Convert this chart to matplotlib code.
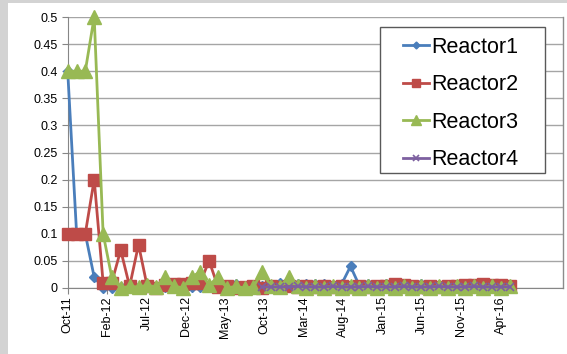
import numpy as np
import matplotlib
matplotlib.use("Agg")
import matplotlib.pyplot as plt
import matplotlib.dates as mdates
from matplotlib.patches import Rectangle
from datetime import datetime, timedelta

plt.rcParams['font.family'] = ['Liberation Sans', 'DejaVu Sans']

# ---------------- data ----------------
sample_dates = [
    "2011-10-01", "2011-11-04", "2011-12-07", "2012-01-10", "2012-02-13", "2012-03-17",
    "2012-04-20", "2012-05-24", "2012-06-27", "2012-07-30", "2012-09-02", "2012-10-06",
    "2012-11-08", "2012-12-12", "2013-01-15", "2013-02-17", "2013-03-23", "2013-04-26",
    "2013-05-30", "2013-07-02", "2013-08-05", "2013-09-08", "2013-10-11", "2013-11-14",
    "2013-12-18", "2014-01-20", "2014-02-23", "2014-03-29", "2014-05-02", "2014-06-04",
    "2014-07-08", "2014-08-11", "2014-09-13", "2014-10-17", "2014-11-20", "2014-12-24",
    "2015-01-26", "2015-03-01", "2015-04-04", "2015-05-07", "2015-06-10", "2015-07-14",
    "2015-08-16", "2015-09-19", "2015-10-23", "2015-11-25", "2015-12-29", "2016-02-01",
    "2016-03-06", "2016-04-08", "2016-05-12",
]

reactor1 = [0.4, 0.1, 0.1, 0.02, 0.0, 0.0, 0.002, 0.001, 0.002, 0.003,
            0.002, 0.001, 0.002, 0.003, 0.002, 0.001, 0.003, 0.002, 0.006, 0.008,
            0.004, 0.002, 0.004, 0.003, 0.009, 0.004, 0.008, 0.008, 0.007, 0.008,
            0.004, 0.008, 0.04, 0.004, 0.008, 0.003, 0.007, 0.004, 0.006, 0.003,
            0.007, 0.004, 0.006, 0.004, 0.003, 0.006, 0.003, 0.004, 0.003, 0.005,
            0.003]

reactor2 = [0.1, 0.1, 0.1, 0.2, 0.01, 0.01, 0.07, 0.003, 0.08, 0.003,
            0.0, 0.005, 0.008, 0.008, 0.01, 0.01, 0.05, 0.002, 0.003, 0.0,
            0.002, 0.004, 0.0, 0.003, 0.002, 0.003, 0.002, 0.003, 0.002, 0.003,
            0.002, 0.003, 0.002, 0.003, 0.002, 0.003, 0.004, 0.007, 0.006, 0.003,
            0.002, 0.003, 0.002, 0.003, 0.003, 0.006, 0.006, 0.007, 0.005, 0.005,
            0.004]

reactor3 = [0.4, 0.4, 0.4, 0.5, 0.1, 0.02, 0.0, 0.003, 0.002, 0.005,
            0.002, 0.02, 0.004, 0.0, 0.02, 0.03, 0.005, 0.02, 0.0, 0.003,
            0.0, 0.002, 0.03, 0.003, 0.002, 0.02, 0.003, 0.0, 0.004, 0.0,
            0.004, 0.0, 0.004, 0.0, 0.004, 0.0, 0.004, 0.0, 0.004, 0.0,
            0.004, 0.0, 0.004, 0.0, 0.004, 0.0, 0.004, 0.0, 0.004, 0.0,
            0.004]

reactor4 = [np.nan] * 22 + [0.002, 0.002, 0.002, 0.002, 0.003, 0.002, 0.002, 0.002,
            0.003, 0.002, 0.002, 0.002, 0.003, 0.002, 0.002, 0.002, 0.003, 0.002,
            0.002, 0.002, 0.003, 0.002, 0.002, 0.002, 0.003, 0.002, 0.002, 0.002,
            0.002]

series_names = ["Reactor1", "Reactor2", "Reactor3", "Reactor4"]
y_ticks = [0, 0.05, 0.1, 0.15, 0.2, 0.25, 0.3, 0.35, 0.4, 0.45, 0.5]
y_tick_labels = ["0", "0.05", "0.1", "0.15", "0.2", "0.25", "0.3", "0.35", "0.4", "0.45", "0.5"]

# ---------------- figure ----------------
W, H = 567, 354
fig = plt.figure(figsize=(W / 100, H / 100), dpi=100)
fig.patch.set_facecolor("white")

# screenshot frame
fig.patches.append(Rectangle((0, 0), 8 / W, 1, transform=fig.transFigure,
                             facecolor="#D3D3D3", edgecolor="none", zorder=0))
fig.patches.append(Rectangle((0, 1 - 3 / H), 1, 3 / H, transform=fig.transFigure,
                             facecolor="#D3D3D3", edgecolor="none", zorder=0))

left_px, right_px, top_px, bottom_px = 67.7, 563, 17, 288
ax = fig.add_axes([left_px / W, 1 - bottom_px / H,
                   (right_px - left_px) / W, (bottom_px - top_px) / H])

dates = [datetime.strptime(d, "%Y-%m-%d") for d in sample_dates]

styles = [
    dict(color="#4A7EBB", marker="D", ms=5),
    dict(color="#BE4B48", marker="s", ms=8.5),
    dict(color="#98B954", marker="^", ms=10),
    dict(color="#7D60A0", marker="x", ms=6, mew=1.2),
]
for name, vals, st in zip(series_names, [reactor1, reactor2, reactor3, reactor4], styles):
    ax.plot(dates, vals, label=name, lw=2.0, clip_on=False, zorder=3, **st)

start = dates[0]
ax.set_xlim(start, start + timedelta(days=1888))
ax.set_ylim(0, 0.5)

tick_dates = [start + timedelta(days=150 * k) for k in range(12)]
ax.set_xticks(tick_dates)
ax.xaxis.set_major_formatter(mdates.DateFormatter("%b-%y"))
ax.set_yticks(y_ticks)
ax.set_yticklabels(y_tick_labels)

for lbl in ax.get_xticklabels():
    lbl.set_rotation(90)
ax.tick_params(axis="x", labelsize=9, length=4, width=0.8, color="#868686", pad=2)
ax.tick_params(axis="y", labelsize=9, length=4, width=0.8, color="#868686", pad=3)

ax.grid(axis="y", color="#A5A5A5", lw=1.0)
ax.set_axisbelow(True)
ax.spines["top"].set_visible(False)
ax.spines["left"].set_color("#868686")
ax.spines["bottom"].set_color("#868686")
ax.spines["right"].set_color("#8C8C8C")
ax.spines["right"].set_linewidth(1.0)

# legend box (drawn separately to match the Excel padding)
box = Rectangle((380 / W, 1 - 173 / H), 165 / W, 146 / H, transform=fig.transFigure,
                facecolor="white", edgecolor="#595959", lw=1.0, zorder=4, clip_on=False)
ax.add_patch(box)

leg = ax.legend(loc="upper left", bbox_to_anchor=(403 / W, 1 - 37 / H),
                bbox_transform=fig.transFigure, fontsize=15.5, frameon=False,
                borderaxespad=0, borderpad=0,
                handlelength=1.2, handletextpad=0.12, labelspacing=0.76,
                markerscale=0.7)
leg.set_zorder(5)

fig.savefig("out.png", dpi=100)
